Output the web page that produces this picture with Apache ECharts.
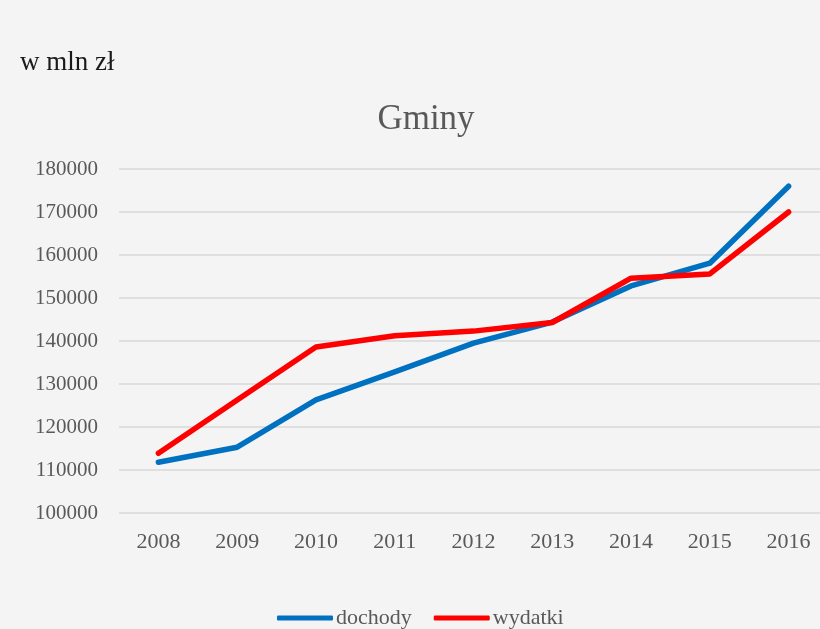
<!DOCTYPE html>
<html>
<head>
<meta charset="utf-8">
<script src="https://cdn.jsdelivr.net/npm/echarts@6/dist/echarts.min.js"></script>
<style>
  html, body { margin: 0; padding: 0; background: #f4f4f4; }
  #chart { width: 820px; height: 629px; }
</style>
</head>
<body>
<div id="chart"></div>
<script>
  // lata i wartości (w mln zł)
  const years = ['2008', '2009', '2010', '2011', '2012', '2013', '2014', '2015', '2016']
  const dochody = [111800, 115300, 126300, 132800, 139500, 144400, 152800, 158100, 176000]
  const wydatki = [113900, 126300, 138600, 141200, 142300, 144300, 154600, 155600, 170000]

  const font = '"Liberation Serif", "DejaVu Serif", serif'
  const chart = echarts.init(document.getElementById('chart'))

  chart.setOption({
    backgroundColor: '#f4f4f4',
    textStyle: { fontFamily: font },
    title: [
      {
        text: 'w mln zł',
        left: 15,
        top: 44,
        textStyle: { fontFamily: font, fontSize: 27, fontWeight: 'normal', color: '#1a1a1a' }
      },
      {
        text: 'Gminy',
        left: 421,
        top: 97,
        textAlign: 'center',
        textStyle: { fontFamily: font, fontSize: 35, fontWeight: 'normal', color: '#595959' }
      }
    ],
    legend: {
      bottom: -5,
      left: 272,
      itemWidth: 56,
      itemHeight: 5,
      itemGap: 22,
      icon: 'roundRect',
      textStyle: { fontFamily: font, fontSize: 22, color: '#595959', padding: [0, 0, 0, -2] },
      data: ['dochody', 'wydatki']
    },
    grid: {
      left: 119,
      right: -8,
      top: 169,
      bottom: 116,
      outerBoundsMode: 'none'
    },
    xAxis: {
      type: 'category',
      data: years,
      boundaryGap: true,
      axisLine: { show: false },
      axisTick: { show: false },
      axisLabel: { fontFamily: font, fontSize: 22, color: '#595959', margin: 18 }
    },
    yAxis: {
      type: 'value',
      min: 100000,
      max: 180000,
      interval: 10000,
      axisLine: { show: false },
      axisTick: { show: false },
      splitLine: { lineStyle: { color: '#d9d9d9', width: 1.5 } },
      axisLabel: {
        fontFamily: font,
        fontSize: 21,
        color: '#595959',
        margin: 21,
        formatter: v => String(v)
      }
    },
    series: [
      {
        name: 'dochody',
        type: 'line',
        data: dochody,
        symbol: 'none',
        color: '#0070c0',
        lineStyle: { width: 5.5, color: '#0070c0', cap: 'round', join: 'round' }
      },
      {
        name: 'wydatki',
        type: 'line',
        data: wydatki,
        symbol: 'none',
        color: '#ff0000',
        lineStyle: { width: 5.5, color: '#ff0000', cap: 'round', join: 'round' }
      }
    ]
  })
</script>
</body>
</html>
